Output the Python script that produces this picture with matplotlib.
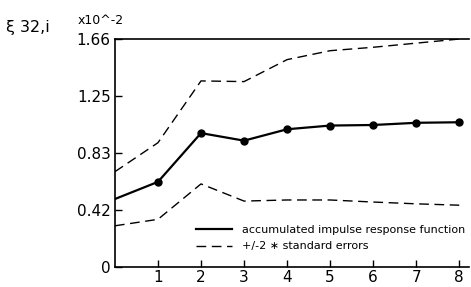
import matplotlib
matplotlib.use("Agg")
import matplotlib.pyplot as plt

plt.rcParams['lines.scale_dashes'] = False
plt.rcParams['font.family'] = ['DejaVu Sans']

steps = [0, 1, 2, 3, 4, 5, 6, 7, 8]
response = [0.495, 0.62, 0.975, 0.92, 1.003, 1.03, 1.034, 1.05, 1.054]
upper = [0.694, 0.905, 1.355, 1.35, 1.51, 1.575, 1.60, 1.63, 1.66]
lower = [0.30, 0.347, 0.605, 0.48, 0.488, 0.488, 0.473, 0.46, 0.45]
xticks = [1, 2, 3, 4, 5, 6, 7, 8]
yticks = [0, 0.415, 0.83, 1.245, 1.66]
ytick_labels = ['0', '0.42', '0.83', '1.25', '1.66']

fig = plt.figure(figsize=(4.71, 2.87), dpi=100)
ax = fig.add_axes([0.244, 0.0697, 0.752, 0.7943])

ax.plot(steps, response, color='black', lw=1.6,
        label='accumulated impulse response function')
ax.plot(steps[1:], response[1:], color='black', lw=0, marker='o', markersize=5)
ax.plot(steps, upper, color='black', lw=1.0, dashes=(7, 4),
        label='+/-2 \u2217 standard errors')
ax.plot(steps, lower, color='black', lw=1.0, dashes=(7, 4))

ax.set_xlim(0, 8.23)
ax.set_ylim(0, 1.66)
ax.set_xticks(xticks)
ax.set_xticklabels([str(t) for t in xticks])
ax.set_yticks(yticks)
ax.set_yticklabels(ytick_labels)
ax.tick_params(direction='in', length=5, width=1.0, labelsize=11, pad=3)
ax.tick_params(axis='x', pad=2)
ax.spines['right'].set_visible(False)
for s in ['left', 'bottom', 'top']:
    ax.spines[s].set_linewidth(1.2)

fig.text(0.012, 0.905, '\u03be 32,i', fontsize=11.5, ha='left', va='center')
fig.text(0.165, 0.93, 'x10^-2', fontsize=9, ha='left', va='center')

leg = ax.legend(loc='upper left', bbox_to_anchor=(0.23, 0.185), frameon=False,
                fontsize=8, handlelength=3.2, handletextpad=0.9,
                labelspacing=0.6, borderaxespad=0, borderpad=0)

fig.savefig('out.png', dpi=100)
